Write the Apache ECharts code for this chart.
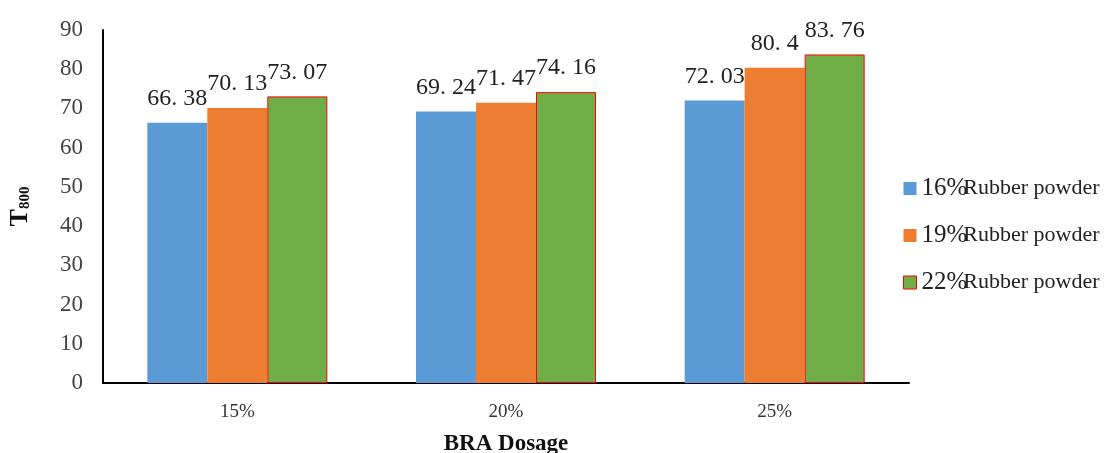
<!DOCTYPE html>
<html><head><meta charset="utf-8">
<script src="https://cdn.jsdelivr.net/npm/echarts@6/dist/echarts.min.js"></script>
<style>html,body{margin:0;padding:0;background:#fff}#c{width:1106px;height:453px}</style>
</head><body><div id="c"></div>
<script>
const categories = ['15%', '20%', '25%'];
const seriesNames = ['16%', '19%', '22%'];
const s16 = [66.38, 69.24, 72.03];
const s19 = [70.13, 71.47, 80.4];
const s22 = [73.07, 74.16, 83.76];
const yTicks = [0, 10, 20, 30, 40, 50, 60, 70, 80, 90];

const colors = ['#5B9BD5', '#ED7D31', '#70AD47'];
const chart = echarts.init(document.getElementById('c'));
const labelCfg = {
  show: true, position: 'top', distance: 12,
  fontFamily: 'Liberation Serif', fontSize: 24, color: '#222',
  formatter: p => String(p.value).replace('.', '. ')
};
function mk(name, data, i) {
  const s = {
    name: name, type: 'bar', data: data, barGap: '0%', barCategoryGap: '33%',
    itemStyle: { color: colors[i] }, label: labelCfg
  };
  if (i === 2) s.itemStyle = { color: colors[i], borderColor: '#FF0000', borderWidth: 1 };
  return s;
}
chart.setOption({
  animation: false,
  grid: { left: 103, right: 197, top: 30, bottom: 70, outerBoundsMode: 'none', containLabel: false },
  legend: {
    orient: 'vertical', left: 898, top: 171, itemGap: 22,
    itemWidth: 13, itemHeight: 13, icon: 'rect',
    formatter: n => '{a|' + n + '}{b|Rubber powder}',
    textStyle: {
      rich: {
        a: { fontFamily: 'Liberation Serif', fontSize: 25, color: '#222' },
        b: { fontFamily: 'Liberation Serif', fontSize: 22, color: '#222', padding: [0, 0, 0, -4] }
      }
    },
    data: seriesNames.map((n, i) => i === 2 ? { name: n, itemStyle: { borderColor: '#FF0000', borderWidth: 1 } } : n)
  },
  xAxis: {
    type: 'category', data: categories,
    name: 'BRA Dosage', nameLocation: 'middle', nameGap: 50,
    nameTextStyle: { fontFamily: 'Liberation Serif', fontWeight: 'bold', fontSize: 23, color: '#111' },
    axisLine: { lineStyle: { color: '#000', width: 2 } },
    axisTick: { show: false },
    axisLabel: { fontFamily: 'Liberation Serif', fontSize: 19, color: '#333', margin: 20 }
  },
  yAxis: {
    type: 'value', min: yTicks[0], max: yTicks[yTicks.length - 1], interval: 10,
    name: '{t|T}{s|800}', nameLocation: 'middle', nameGap: 70, nameRotate: 90,
    nameTextStyle: {
      rich: {
        t: { fontFamily: 'Liberation Serif', fontWeight: 'bold', fontSize: 26, color: '#111' },
        s: { fontFamily: 'Liberation Serif', fontWeight: 'bold', fontSize: 15, color: '#111', verticalAlign: 'bottom', padding: [10, 0, 0, 0] }
      }
    },
    axisLine: { show: true, lineStyle: { color: '#000', width: 2 } },
    axisTick: { show: false },
    splitLine: { show: false },
    axisLabel: { fontFamily: 'Liberation Serif', fontSize: 23, color: '#444', margin: 20 }
  },
  series: [mk(seriesNames[0], s16, 0), mk(seriesNames[1], s19, 1), mk(seriesNames[2], s22, 2)]
});
</script></body></html>
